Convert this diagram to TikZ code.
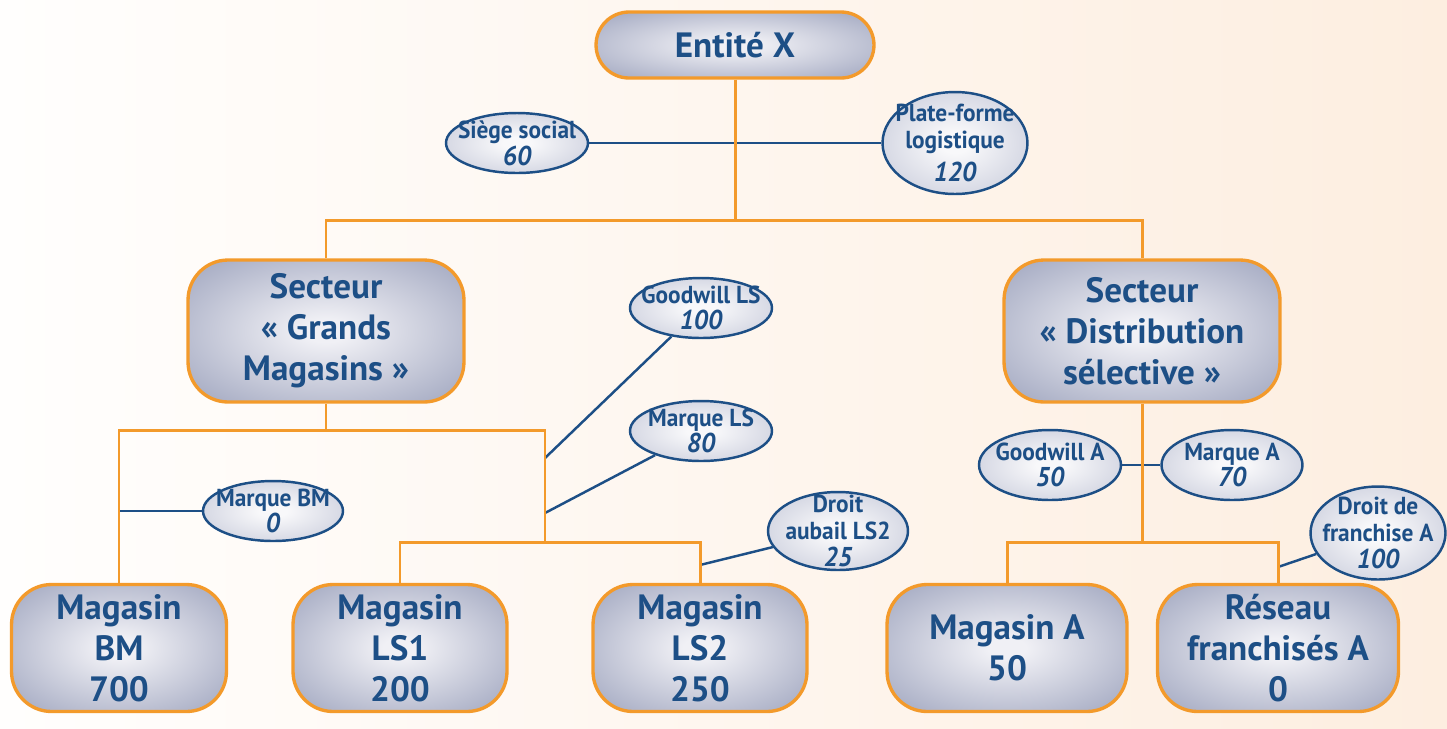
\documentclass[tikz,border=0pt]{standalone}
\usepackage{fontspec}
\setmainfont{PT Sans}
\newfontfamily\assetfamily[FakeStretch=0.95]{PT Sans}
\usetikzlibrary{shapes.geometric,backgrounds}

\definecolor{ink}{HTML}{1D4F86}
\definecolor{tree}{HTML}{F39A2B}
\definecolor{boxedge}{HTML}{858DAD}
\definecolor{boxmid}{HTML}{F0F0F5}
\definecolor{ovedge}{HTML}{B0B5CB}
\definecolor{ovmid}{HTML}{F8F8FA}
\definecolor{pageL}{HTML}{FFFEFD}
\definecolor{pageR}{HTML}{FDEEE0}

\pgfdeclareradialshading{boxshade}{\pgfpoint{0bp}{0bp}}{color(0bp)=(boxmid); color(4bp)=(boxmid); color(46bp)=(boxedge); color(80bp)=(boxedge)}
\pgfdeclareradialshading{ovalshade}{\pgfpoint{0bp}{0bp}}{color(0bp)=(ovmid); color(5bp)=(ovmid); color(48bp)=(ovedge); color(80bp)=(ovedge)}

\pgfdeclarelayer{links}
\pgfdeclarelayer{tree}
\pgfsetlayers{background,links,tree,main}

\newcommand\unitfont{\fontsize{20}{23.3}\selectfont\bfseries}
\newcommand\assetfont{\assetfamily\fontsize{14}{15.2}\selectfont\bfseries}
\newcommand\val[1]{{\fontsize{15.5}{15.2}\selectfont\itshape #1}}

\tikzset{
  unit/.style={draw=tree, line width=1.9pt, shading=boxshade, rounded corners=0.8cm,
    align=center, text=ink, font=\unitfont, inner sep=0pt},
  asset/.style={ellipse, draw=ink, line width=1.4pt, shading=ovalshade, inner sep=0pt},
  assettext/.style={align=center, text=ink, font=\assetfont, inner sep=0pt},
  treeline/.style={draw=tree, line width=1.7pt},
  link/.style={draw=ink, line width=1.4pt},
}

\begin{document}
\begin{tikzpicture}[x=0.02cm, y=-0.02cm]
  % page
  \useasboundingbox (0,0) rectangle (1447,728);
  \begin{pgfonlayer}{background}
    \shade[left color=pageL, right color=pageR] (0,0) rectangle (1447,728);
  \end{pgfonlayer}

  % entities
  \node[unit, minimum width=5.56cm, minimum height=1.32cm, rounded corners=0.66cm] (E) at (735,45) {Entité X};
  \node[unit, minimum width=5.52cm, minimum height=2.84cm] (GM) at (326,331) {Secteur\\«~Grands\\Magasins~»};
  \node[unit, minimum width=5.52cm, minimum height=2.84cm] (DS) at (1142,331) {Secteur\\«~Distribution\\sélective~»};
  \node[unit, minimum width=4.30cm, minimum height=2.54cm] (BM) at (119,648) {Magasin\\BM\\700};
  \node[unit, minimum width=4.28cm, minimum height=2.54cm] (LS1) at (400,648) {Magasin\\LS1\\200};
  \node[unit, minimum width=4.28cm, minimum height=2.54cm] (LS2) at (700,648) {Magasin\\LS2\\250};
  \node[unit, minimum width=4.80cm, minimum height=2.54cm] (MA) at (1007,648) {Magasin A\\50};
  \node[unit, minimum width=4.82cm, minimum height=2.54cm] (RF) at (1278,648) {Réseau\\franchisés A\\0};

  % assets (ellipse outline, caption set on top)
  \node[asset, minimum width=2.84cm, minimum height=1.20cm,
    label={[assettext]center:Siège social\\\val{60}}] (SS) at (517,143) {};
  \node[asset, minimum width=2.90cm, minimum height=2.04cm,
    label={[assettext]center:Plate-forme\\logistique\\[4pt]\val{120}}] (PF) at (955,143) {};
  \node[asset, minimum width=2.84cm, minimum height=1.20cm,
    label={[assettext]center:Goodwill LS\\\val{100}}] (GLS) at (701,308) {};
  \node[asset, minimum width=2.84cm, minimum height=1.20cm,
    label={[assettext]center:Marque LS\\\val{80}}] (MLS) at (701,431) {};
  \node[asset, minimum width=2.80cm, minimum height=1.20cm,
    label={[assettext]center:Marque BM\\\val{0}}] (MBM) at (273,511) {};
  \node[asset, minimum width=2.80cm, minimum height=1.56cm,
    label={[assettext]center:Droit\\aubail LS2\\\val{25}}] (DLS) at (838,531) {};
  \node[asset, minimum width=2.84cm, minimum height=1.40cm,
    label={[assettext]center:Goodwill A\\\val{50}}] (GA) at (1050,465) {};
  \node[asset, minimum width=2.82cm, minimum height=1.40cm,
    label={[assettext]center:Marque A\\\val{70}}] (MQA) at (1232,465) {};
  \node[asset, minimum width=2.70cm, minimum height=1.86cm,
    label={[assettext]center:Droit de\\franchise A\\\val{100}}] (DFA) at (1378,533) {};

  % junctions of the tree
  \coordinate (j0) at (735,220);
  \coordinate (j1) at (326,430);
  \coordinate (j2) at (545,542);
  \coordinate (j3) at (1142,542);
  \coordinate (t1) at (545,458);
  \coordinate (t2) at (545,513);
  \coordinate (t3) at (118,511);
  \coordinate (t4) at (700,565);
  \coordinate (t5) at (1278,567);

  \begin{pgfonlayer}{tree}
    \draw[treeline] (E.south) -- (j0);
    \draw[treeline] (GM.north) |- (j0) -| (DS.north);
    \draw[treeline] (GM.south) -- (j1);
    \draw[treeline] (BM.north) |- (j1) -| (j2);
    \draw[treeline] (LS1.north) |- (j2) -| (LS2.north);
    \draw[treeline] (DS.south) -- (j3);
    \draw[treeline] (MA.north) |- (j3) -| (RF.north);
  \end{pgfonlayer}

  \begin{pgfonlayer}{links}
    \draw[link] (SS) -- (PF);
    \draw[link] (GA) -- (MQA);
    \draw[link] (t1) -- (GLS);
    \draw[link] (t2) -- (MLS);
    \draw[link] (t3) -- (MBM);
    \draw[link] (t4) -- (DLS);
    \draw[link] (t5) -- (DFA);
  \end{pgfonlayer}
\end{tikzpicture}
\end{document}
